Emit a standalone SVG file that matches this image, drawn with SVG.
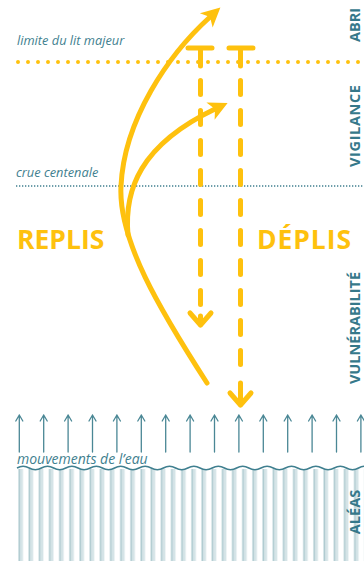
<svg xmlns="http://www.w3.org/2000/svg" width="364" height="561" viewBox="0 0 364 561">
<style>
.lbl{font-family:"Open Sans","DejaVu Sans",sans-serif;font-style:italic;font-size:12.8px;fill:#3f7f8f}
.big{font-family:"Open Sans","DejaVu Sans",sans-serif;font-weight:bold;font-size:26.5px;fill:#fec10e}
.vert{font-family:"Open Sans","DejaVu Sans",sans-serif;font-weight:bold;font-size:14.5px;fill:#36788a;text-anchor:middle}
.y{fill:none;stroke:#fec10e;stroke-width:5;stroke-linecap:round;stroke-linejoin:round}
.dash{stroke-dasharray:14 16}
.up{fill:none;stroke:#4a8795;stroke-width:1.3;stroke-linecap:round;stroke-linejoin:round}
.stripe{fill:#d5e4e7}
.sline{stroke:#adc9ce;stroke-width:1}
</style>
<defs>
<marker id="head" markerUnits="userSpaceOnUse" viewBox="-6 -10 22 20" refX="0" refY="0" markerWidth="22" markerHeight="20" orient="auto">
<path d="M-5,-9.5 L14,0 L-5,9.5 L0,0 z" fill="#fec10e"/>
</marker>
<pattern id="stripes" patternUnits="userSpaceOnUse" x="18" y="0" width="10.17" height="561">
<rect class="stripe" x="0" y="0" width="5" height="561"/>
<line class="sline" x1="1.5" y1="0" x2="1.5" y2="561"/>
</pattern>
</defs>

<g id="levels">
<line x1="18" y1="62" x2="364" y2="62" stroke="#fec10e" stroke-width="4" stroke-linecap="round" stroke-dasharray="0 10"/>
<line x1="16" y1="186" x2="364" y2="186" stroke="#3f7f8f" stroke-width="1.3" stroke-dasharray="1.3 1.7"/>
<text class="lbl" x="17" y="45">limite du lit majeur</text>
<text class="lbl" x="16" y="177">crue centenale</text>
</g>

<g id="water">
<rect x="18" y="469" width="346" height="92" fill="url(#stripes)"/>
<path d="M17,468 q6.1,-3.4 12.2,0 t12.2,0 t12.2,0 t12.2,0 t12.2,0 t12.2,0 t12.2,0 t12.2,0 t12.2,0 t12.2,0 t12.2,0 t12.2,0 t12.2,0 t12.2,0 t12.2,0 t12.2,0 t12.2,0 t12.2,0 t12.2,0 t12.2,0 t12.2,0 t12.2,0 t12.2,0 t12.2,0 t12.2,0 t12.2,0 t12.2,0 t12.2,0 t12.2,0" fill="none" stroke="#3f7f8f" stroke-width="1.5"/>
<text class="lbl" x="17" y="464" style="font-size:14px">mouvements de l’eau</text>
</g>

<g id="zones">
<text class="vert" transform="translate(360,25) rotate(-90)">ABRI</text>
<text class="vert" transform="translate(360,126) rotate(-90)" textLength="82" lengthAdjust="spacing">VIGILANCE</text>
<text class="vert" transform="translate(360,328) rotate(-90)">VULNÉRABILITÉ</text>
<text class="vert" transform="translate(360,512) rotate(-90)">ALÉAS</text>
</g>

<g id="replis"><text class="big" x="17" y="249">REPLIS</text></g>
<g id="deplis"><text class="big" x="257" y="249" textLength="94" lengthAdjust="spacing">DÉPLIS</text></g>

<g id="connectors">
<path class="y" d="M207,383 C160,310 118,240 121,186 C124,120 168,55 210,17" marker-end="url(#head)"/>
<path class="y" d="M128,235 C124,190 140,145 215,109" marker-end="url(#head)"/>
<path class="y" d="M188,48 L212,48 M200.5,48 L200.5,66"/>
<path class="y dash" d="M200.5,80.5 L200.5,305"/>
<path class="y" d="M200.5,316 L200.5,325 M190,313 L200.5,325 L211,313"/>
<path class="y" d="M229,48 L253,48 M240.5,48 L240.5,66"/>
<path class="y dash" d="M240.5,80.5 L240.5,375"/>
<path class="y" d="M240.5,383 L240.5,405 M230,393 L240.5,405 L251,393"/>
<g class="up">
<path d="M19.3,452 V415 M15.8,421 L19.3,415 L22.8,421"/>
<path d="M43.7,452 V415 M40.2,421 L43.7,415 L47.2,421"/>
<path d="M68.1,452 V415 M64.6,421 L68.1,415 L71.6,421"/>
<path d="M92.5,452 V415 M89,421 L92.5,415 L96,421"/>
<path d="M116.9,452 V415 M113.4,421 L116.9,415 L120.4,421"/>
<path d="M141.3,452 V415 M137.8,421 L141.3,415 L144.8,421"/>
<path d="M165.7,452 V415 M162.2,421 L165.7,415 L169.2,421"/>
<path d="M190.1,452 V415 M186.6,421 L190.1,415 L193.6,421"/>
<path d="M214.5,452 V415 M211,421 L214.5,415 L218,421"/>
<path d="M238.9,452 V415 M235.4,421 L238.9,415 L242.4,421"/>
<path d="M263.3,452 V415 M259.8,421 L263.3,415 L266.8,421"/>
<path d="M287.7,452 V415 M284.2,421 L287.7,415 L291.2,421"/>
<path d="M312.1,452 V415 M308.6,421 L312.1,415 L315.6,421"/>
<path d="M336.5,452 V415 M333,421 L336.5,415 L340,421"/>
<path d="M360.9,452 V415 M357.4,421 L360.9,415 L364.4,421"/>
</g>
</g>
</svg>
